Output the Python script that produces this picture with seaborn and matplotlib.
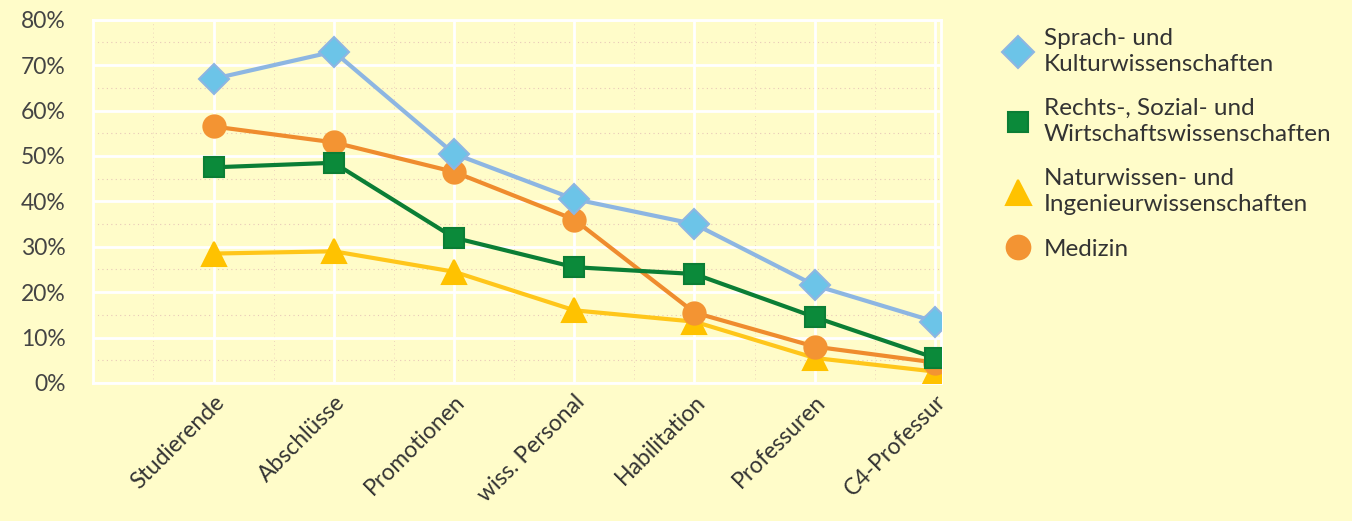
import matplotlib
matplotlib.use("Agg")
import matplotlib.pyplot as plt
import seaborn as sns
import pandas as pd
from matplotlib.ticker import MultipleLocator, FuncFormatter
from matplotlib.lines import Line2D

stufen = ["Studierende", "Abschlüsse", "Promotionen", "wiss. Personal",
          "Habilitation", "Professuren", "C4-Professur"]

sprach_kultur = [67, 73, 50.5, 40.5, 35, 21.5, 13.5]
rechts_sozial = [47.5, 48.5, 32, 25.5, 24, 14.5, 5.5]
natur_ing = [28.5, 29, 24.5, 16, 13.5, 5.5, 2.5]
medizin = [56.5, 53, 46.5, 36, 15.5, 8, 4.5]

faecher = ["Sprach- und\nKulturwissenschaften",
           "Rechts-, Sozial- und\nWirtschaftswissenschaften",
           "Naturwissen- und\nIngenieurwissenschaften",
           "Medizin"]
werte = [sprach_kultur, rechts_sozial, natur_ing, medizin]

rows = []
for fach, vals in zip(faecher, werte):
    for i, (s, v) in enumerate(zip(stufen, vals)):
        rows.append({"Fach": fach, "pos": i, "Stufe": s, "Anteil": v})
df = pd.DataFrame(rows)

bg = "#FFFCC9"
styles = {
    faecher[0]: dict(color="#8DB6E2", marker="D", ms=15, mfc="#6CC4E8", mec="#8DB6E2"),
    faecher[1]: dict(color="#0B7E35", marker="s", ms=14, mfc="#0B8A3A", mec="#0B7E35"),
    faecher[2]: dict(color="#FFC61A", marker="^", ms=17, mfc="#FFC200", mec="#FFC200"),
    faecher[3]: dict(color="#EF8C2E", marker="o", ms=16, mfc="#F39433", mec="#F39433"),
}

sns.set_theme(style="white")
plt.rcParams["font.family"] = ["Lato", "DejaVu Sans"]

fig = plt.figure(figsize=(13.52, 5.21), dpi=100, facecolor=bg)
ax = fig.add_axes([0.069, 0.265, 0.627, 0.697])
ax.set_facecolor(bg)

# draw order: Natur first so the others sit on top
for fach in [faecher[2], faecher[3], faecher[1], faecher[0]]:
    st = styles[fach]
    sub = df[df["Fach"] == fach]
    sns.lineplot(data=sub, x="pos", y="Anteil", ax=ax, color=st["color"],
                 linewidth=3, marker=st["marker"], markersize=st["ms"],
                 markerfacecolor=st["mfc"], markeredgecolor=st["mec"],
                 markeredgewidth=1.5, legend=False, zorder=3)

ax.set_xlim(-1, 6.05)
ax.set_ylim(0, 80)
ax.yaxis.set_major_locator(MultipleLocator(10))
ax.yaxis.set_major_formatter(FuncFormatter(lambda v, _: f"{int(v)}%"))
ax.set_xticks(range(len(stufen)))
ax.set_xticklabels(stufen, rotation=45, ha="right", rotation_mode="anchor",
                   fontsize=16.5, color="#333333")
ax.tick_params(axis="y", labelsize=16.5, labelcolor="#444444", length=0, pad=20)
ax.tick_params(axis="x", length=0, pad=6)
ax.set_xlabel("")
ax.set_ylabel("")

# white major grid, faint dotted rose lines in between
ax.grid(True, color="white", linewidth=2, zorder=0)
for y in range(5, 80, 10):
    ax.axhline(y, color="#E8C8B8", linewidth=0.8, linestyle=(0, (1, 3)), zorder=0)
for x in [-0.5, 0.5, 1.5, 2.5, 3.5, 4.5, 5.5]:
    ax.axvline(x, color="#E8C8B8", linewidth=0.6, linestyle=(0, (1, 4)), zorder=0)
for s in ax.spines.values():
    s.set_color("white")
    s.set_linewidth(2)

handles = []
for fach in faecher:
    st = styles[fach]
    handles.append(Line2D([], [], linestyle="none", marker=st["marker"],
                          markersize=st["ms"] + 1, markerfacecolor=st["mfc"],
                          markeredgecolor=st["mec"], markeredgewidth=1.5))
leg = fig.legend(handles, faecher, loc="upper left", bbox_to_anchor=(0.735, 0.965),
                 frameon=False, fontsize=17.5, labelspacing=0.95, handletextpad=0.45,
                 handlelength=1.2, borderaxespad=0)
for t in leg.get_texts():
    t.set_color("#333333")
    t.set_linespacing(1.3)

fig.savefig("out.png", dpi=100, facecolor=bg)
